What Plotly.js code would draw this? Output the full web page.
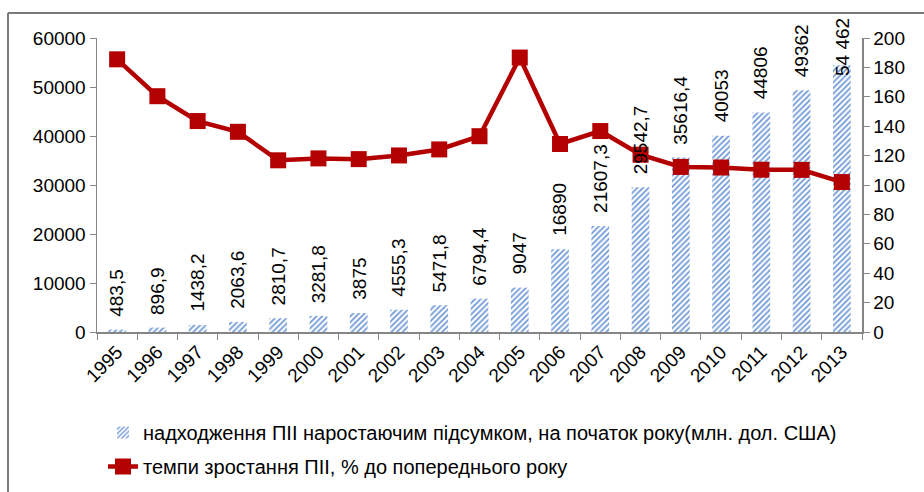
<!DOCTYPE html>
<html>
<head>
<meta charset="utf-8">
<script src="https://cdn.plot.ly/plotly-3.0.1.min.js"></script>
<style>html,body{margin:0;padding:0;background:#fff;}#chart{width:924px;height:492px;}</style>
</head>
<body>
<div id="chart"></div>
<script>
const years = ["1995","1996","1997","1998","1999","2000","2001","2002","2003","2004","2005","2006","2007","2008","2009","2010","2011","2012","2013"];
const fdiValues = [483.5, 896.9, 1438.2, 2063.6, 2810.7, 3281.8, 3875, 4555.3, 5471.8, 6794.4, 9047, 16890, 21607.3, 29542.7, 35616.4, 40053, 44806, 49362, 54462];
const fdiLabels = ["483,5","896,9","1438,2","2063,6","2810,7","3281,8","3875","4555,3","5471,8","6794,4","9047","16890","21607,3","29542,7","35616,4","40053","44806","49362","54 462"];
const growthRates = [185.5, 160.4, 143.5, 136.2, 116.8, 118.1, 117.6, 120.1, 124.2, 133.2, 186.7, 127.9, 136.7, 120.6, 112.3, 111.9, 110.4, 110.3, 102.0];
const barName = "надходження ПІІ наростаючим підсумком, на початок року(млн. дол. США)";
const lineName = "темпи зростання ПІІ, % до попереднього року";

const FONT = "Liberation Sans, Arial, sans-serif";
const W = 924, H = 492, L = 97, R = 62, T = 38, B = 160;
const pw = W - L - R, ph = H - T - B;
const px = x => (x - L) / pw;
const py = y => (H - B - y) / ph;
const idx = years.map((_, i) => i);
const Y1MAX = 60000;

const barTrace = {
  type: 'bar', x: idx, y: fdiValues, name: barName, yaxis: 'y',
  width: 0.44, legendgroup: 'a',
  marker: {color: '#ffffff', line: {width: 0},
    pattern: {shape: '/', fgcolor: '#7099d6', bgcolor: '#ffffff', size: 4, solidity: 0.45}},
  hoverinfo: 'skip'
};
const lineTrace = {
  type: 'scatter', mode: 'lines+markers', x: idx, y: growthRates, name: lineName, yaxis: 'y2',
  legendgroup: 'b',
  line: {color: '#b30000', width: 4.5},
  marker: {symbol: 'square', size: 16, color: '#b30000'},
  hoverinfo: 'skip'
};

// data labels above bars; keep label top inside the frame (as the original does)
const LABEL_SIZE = 19;
const annotations = idx.map(i => {
  const barTopPx = ph - (fdiValues[i] / Y1MAX) * ph; // relative to plot top
  const core = fdiLabels[i].replace(/[ ,]/g, '').length;
  const thin = fdiLabels[i].length - core;
  const textLen = core * 0.556 * LABEL_SIZE + thin * 0.278 * LABEL_SIZE;
  let shift = 11;
  const topPx = T + barTopPx - shift - textLen;
  if (topPx < 20) shift = T + barTopPx - textLen - 20;
  return {
    x: i, y: fdiValues[i], xref: 'x', yref: 'y', text: fdiLabels[i],
    textangle: -90, showarrow: false, yanchor: 'bottom', xanchor: 'center',
    yshift: shift, font: {family: FONT, size: LABEL_SIZE, color: '#000'}
  };
});

const axisFont = {family: FONT, size: 19, color: '#000'};
const layout = {
  width: W, height: H,
  margin: {l: L, r: R, t: T, b: B, pad: 0, autoexpand: false},
  paper_bgcolor: '#fff', plot_bgcolor: '#fff',
  showlegend: true,
  legend: {x: px(103), y: py(413), xanchor: 'left', yanchor: 'top', orientation: 'v',
    traceorder: 'grouped', tracegroupgap: 5,
    font: {family: FONT, size: 20, color: '#000'}, bgcolor: 'rgba(0,0,0,0)'},
  xaxis: {range: [-0.5, years.length - 0.5], tickmode: 'array', tickvals: idx, ticktext: years,
    tickangle: -45, tickfont: axisFont, showgrid: false, autorange: false, automargin: false,
    showline: true, linecolor: '#868686', linewidth: 1.5, ticks: '', zeroline: false,
    minor: {ticks: 'outside', tick0: -0.5, dtick: 1, ticklen: 6, tickcolor: '#868686', showgrid: false}},
  yaxis: {range: [0, Y1MAX], dtick: 10000, tickfont: axisFont, showgrid: false, zeroline: false,
    showline: true, linecolor: '#868686', linewidth: 1.5, ticks: 'outside', ticklen: 6,
    tickcolor: '#868686', tickformat: 'd', autorange: false, automargin: false},
  yaxis2: {range: [0, 200], dtick: 20, overlaying: 'y', side: 'right', tickfont: axisFont,
    showgrid: false, zeroline: false, showline: true, linecolor: '#868686', linewidth: 1.5,
    ticks: 'outside', ticklen: 6, tickcolor: '#868686', autorange: false, automargin: false},
  annotations: annotations,
  shapes: [
    {type: 'line', xref: 'paper', yref: 'paper', x0: px(8), x1: px(924), y0: py(13), y1: py(13),
      line: {color: '#7a7a7a', width: 2}},
    {type: 'line', xref: 'paper', yref: 'paper', x0: px(8), x1: px(8), y0: py(13), y1: py(492),
      line: {color: '#7a7a7a', width: 2}}
  ]
};

Plotly.newPlot('chart', [barTrace, lineTrace], layout, {staticPlot: true, displayModeBar: false});
</script>
</body>
</html>
